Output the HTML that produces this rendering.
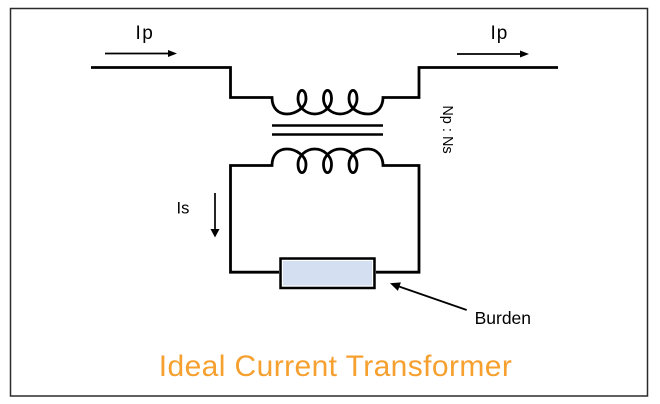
<!DOCTYPE html>
<html>
<head>
<meta charset="utf-8">
<style>
  html,body{margin:0;padding:0;background:#fff;}
  svg{display:block;}
  text{font-family:"Liberation Sans",sans-serif;}
</style>
</head>
<body>
<svg width="660" height="404" viewBox="0 0 660 404" xmlns="http://www.w3.org/2000/svg">
  <rect x="0" y="0" width="660" height="404" fill="#fff"/>
  <!-- frame -->
  <rect x="10.5" y="8.5" width="637" height="387.5" fill="none" stroke="#2b2b2b" stroke-width="1.5"/>

  <!-- primary wire with coil -->
  <path d="M 91 67.5 H 230.5 V 97.5 H 272
           C 272 108 278 114 287 114
           C 296 114 306 107 306 99
           C 306 87.5 298 87.5 298 99
           C 298 107 306 114 314.75 114
           C 323.5 114 331.5 107 331.5 99
           C 331.5 87.5 323.5 87.5 323.5 99
           C 323.5 107 331.5 114 340.25 114
           C 349 114 357 107 357 99
           C 357 87.5 349 87.5 349 99
           C 349 107 357 114 368 114
           C 377 114 383 107 383 97.5
           H 419 V 67.5 H 558"
        fill="none" stroke="#000" stroke-width="2.8" stroke-linejoin="miter"/>

  <!-- core -->
  <line x1="272" y1="125.5" x2="383" y2="125.5" stroke="#000" stroke-width="2.5"/>
  <line x1="272" y1="134.5" x2="383" y2="134.5" stroke="#000" stroke-width="2.5"/>

  <!-- secondary wire with coil -->
  <path d="M 279 272.2 H 230.5 V 165.5 H 272
           C 272 155 278 149 287 149
           C 296 149 306 156 306 164
           C 306 175.5 298 175.5 298 164
           C 298 156 306 149 314.75 149
           C 323.5 149 331.5 156 331.5 164
           C 331.5 175.5 323.5 175.5 323.5 164
           C 323.5 156 331.5 149 340.25 149
           C 349 149 357 156 357 164
           C 357 175.5 349 175.5 349 164
           C 349 156 357 149 368 149
           C 377 149 383 156 383 165.5
           H 419 V 272.2 H 376"
        fill="none" stroke="#000" stroke-width="2.8" stroke-linejoin="miter"/>

  <!-- resistor (burden) -->
  <rect x="280.5" y="258.5" width="94" height="29.5" fill="#d4e0f2" stroke="#000" stroke-width="2.5"/>
  <rect x="282.5" y="260.5" width="90" height="25.5" fill="none" stroke="#ffffff" stroke-width="1"/>

  <!-- Ip arrows -->
  <line x1="105" y1="53.5" x2="169" y2="53.5" stroke="#000" stroke-width="1.7"/>
  <polygon points="168,50 177,53.5 168,57" fill="#000"/>
  <line x1="457" y1="54" x2="521" y2="54" stroke="#000" stroke-width="1.7"/>
  <polygon points="520,50.5 529,54 520,57.5" fill="#000"/>

  <!-- Is arrow -->
  <line x1="215" y1="193" x2="215" y2="230" stroke="#000" stroke-width="1.7"/>
  <polygon points="210.5,229 219.5,229 215,237.5" fill="#000"/>

  <!-- Burden arrow -->
  <line x1="466.7" y1="310" x2="399" y2="286.5" stroke="#000" stroke-width="1.8"/>
  <polygon points="390,283.3 400.9,282.4 397.9,290.9" fill="#000"/>

  <!-- labels -->
  <text x="135.5" y="39" font-size="19" letter-spacing="1.5" fill="#000">Ip</text>
  <text x="490.5" y="39" font-size="19" letter-spacing="1" fill="#000">Ip</text>
  <text x="176.5" y="213.5" font-size="16.5" fill="#000">Is</text>
  <text x="474.6" y="324" font-size="17.5" fill="#000">Burden</text>
  <g transform="translate(445.5,129.5) rotate(90)">
    <text x="0" y="2.5" font-size="14.5" text-anchor="middle" fill="#000">Np : Ns</text>
  </g>

  <!-- title -->
  <text x="335.5" y="376" font-size="30" letter-spacing="0.4" text-anchor="middle" fill="#f5a02f">Ideal Current Transformer</text>
</svg>
</body>
</html>
